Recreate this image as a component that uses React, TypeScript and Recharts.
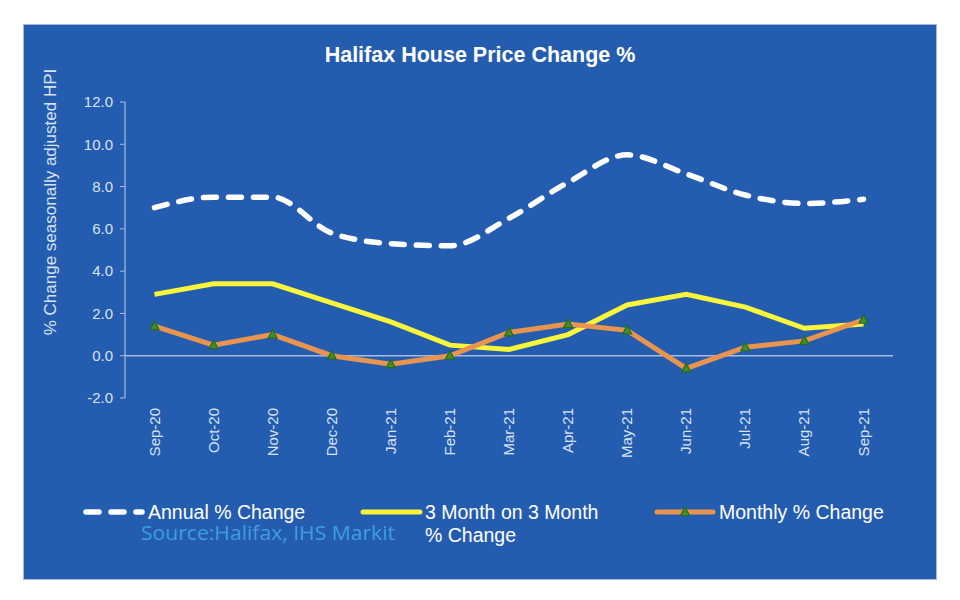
import { LineChart, Line, XAxis, YAxis, ReferenceLine } from 'recharts';

const months = ['Sep-20', 'Oct-20', 'Nov-20', 'Dec-20', 'Jan-21', 'Feb-21', 'Mar-21', 'Apr-21', 'May-21', 'Jun-21', 'Jul-21', 'Aug-21', 'Sep-21'];
const annual = [7.0, 7.5, 7.5, 5.8, 5.3, 5.2, 6.5, 8.2, 9.5, 8.6, 7.6, 7.2, 7.4];
const threeMonth = [2.9, 3.4, 3.4, 2.5, 1.6, 0.5, 0.3, 1.0, 2.4, 2.9, 2.3, 1.3, 1.5];
const monthly = [1.4, 0.5, 1.0, 0.0, -0.4, 0.0, 1.1, 1.5, 1.2, -0.6, 0.4, 0.7, 1.7];
const yTicks = [-2, 0, 2, 4, 6, 8, 10, 12];

const PANEL = '#245DAF';
const TICK = '#D8E2F1';
const AXIS = '#A6BCE0';
const WHITE = '#FFFFFF';
const YELLOW = '#F9F53A';
const ORANGE = '#E8944F';
const MARK_FILL = '#3F8E2C';
const MARK_STROKE = '#2A6A1B';
const FONT = 'Arial, "Liberation Sans", sans-serif';

const data = months.map((m, i) => ({
  month: m,
  annual: annual[i],
  threeMonth: threeMonth[i],
  monthly: monthly[i],
}));

function tri(cx: number, cy: number) {
  return `M${cx},${cy - 5} L${cx - 4.5},${cy + 3.5} L${cx + 4.5},${cy + 3.5} Z`;
}

function Triangle(props: any) {
  const { cx, cy, index } = props;
  if (cx == null || cy == null) return <g key={`t-${index}`} />;
  return <path key={`t-${index}`} d={tri(cx, cy)} fill={MARK_FILL} stroke={MARK_STROKE} strokeWidth={1.2} />;
}

function MonthTick(props: any) {
  const { x, payload } = props;
  return (
    <text
      transform={`translate(${x + 5},408) rotate(-90)`}
      textAnchor="end"
      fill={TICK}
      fontSize={15}
      fontFamily={FONT}
    >
      {payload.value}
    </text>
  );
}

export default function App() {
  return (
    <div style={{ position: 'absolute', left: 0, top: 0, width: 960, height: 600, background: '#fff' }}>
      {/* blue panel */}
      <div
        style={{
          position: 'absolute',
          left: 23,
          top: 24,
          width: 912,
          height: 554,
          background: PANEL,
          border: '1px solid #9FB9E4',
        }}
      />

      <LineChart
        width={960}
        height={600}
        data={data}
        margin={{ top: 102, right: 67, bottom: 142, left: 65 }}
        style={{ position: 'absolute', left: 0, top: 0 }}
      >
        <XAxis
          dataKey="month"
          axisLine={false}
          tickLine={false}
          height={60}
          interval={0}
          padding={{ left: 29.5, right: 29.5 }}
          tick={<MonthTick />}
        />
        <YAxis
          domain={[-2, 12]}
          ticks={yTicks}
          width={60}
          tickFormatter={(v: number) => v.toFixed(1)}
          tick={{ fill: TICK, fontSize: 15, fontFamily: FONT }}
          tickSize={5}
          tickMargin={7}
          stroke={AXIS}
          axisLine={{ stroke: AXIS, strokeWidth: 1.2 }}
          tickLine={{ stroke: AXIS }}
        />
        <ReferenceLine y={0} stroke={AXIS} strokeWidth={1.5} />
        <Line
          dataKey="annual"
          type="monotone"
          stroke={WHITE}
          strokeWidth={5.5}
          strokeDasharray="13 12"
          strokeLinecap="round"
          dot={false}
          isAnimationActive={false}
        />
        <Line
          dataKey="threeMonth"
          type="linear"
          stroke={YELLOW}
          strokeWidth={5}
          dot={false}
          isAnimationActive={false}
        />
        <Line
          dataKey="monthly"
          type="linear"
          stroke={ORANGE}
          strokeWidth={5}
          dot={<Triangle />}
          isAnimationActive={false}
        />
      </LineChart>

      <svg width={960} height={600} style={{ position: 'absolute', left: 0, top: 0, pointerEvents: 'none' }}>
        <text x={480} y={62} textAnchor="middle" fill={WHITE} fontSize={21.5} fontWeight="bold" fontFamily={FONT}>
          Halifax House Price Change %
        </text>
        <text
          transform="translate(56,202) rotate(-90)"
          textAnchor="middle"
          fill={TICK}
          fontSize={17}
          fontFamily={FONT}
        >
          % Change seasonally adjusted HPI
        </text>

        {/* legend */}
        <line x1={86} y1={512} x2={142} y2={512} stroke={WHITE} strokeWidth={5.5} strokeDasharray="13 12" strokeLinecap="round" />
        <text x={148} y={519} fill={WHITE} fontSize={19.5} fontFamily={FONT}>Annual % Change</text>

        <line x1={363} y1={512} x2={420} y2={512} stroke={YELLOW} strokeWidth={5} strokeLinecap="round" />
        <text x={425} y={519} fill={WHITE} fontSize={19.5} fontFamily={FONT}>3 Month on 3 Month</text>
        <text x={425} y={542} fill={WHITE} fontSize={19.5} fontFamily={FONT}>% Change</text>

        <line x1={657} y1={512} x2={713} y2={512} stroke={ORANGE} strokeWidth={5} strokeLinecap="round" />
        <path d={tri(685, 512)} fill={MARK_FILL} stroke={MARK_STROKE} strokeWidth={1.2} />
        <text x={719} y={519} fill={WHITE} fontSize={19.5} fontFamily={FONT}>Monthly % Change</text>

        <text
          x={141}
          y={540}
          fill="#3D9DDF"
          fontSize={20}
          fontFamily='"Open Sans", "Noto Sans", sans-serif'
          textLength={254}
          lengthAdjust="spacingAndGlyphs"
        >
          Source:Halifax, IHS Markit
        </text>
      </svg>
    </div>
  );
}
